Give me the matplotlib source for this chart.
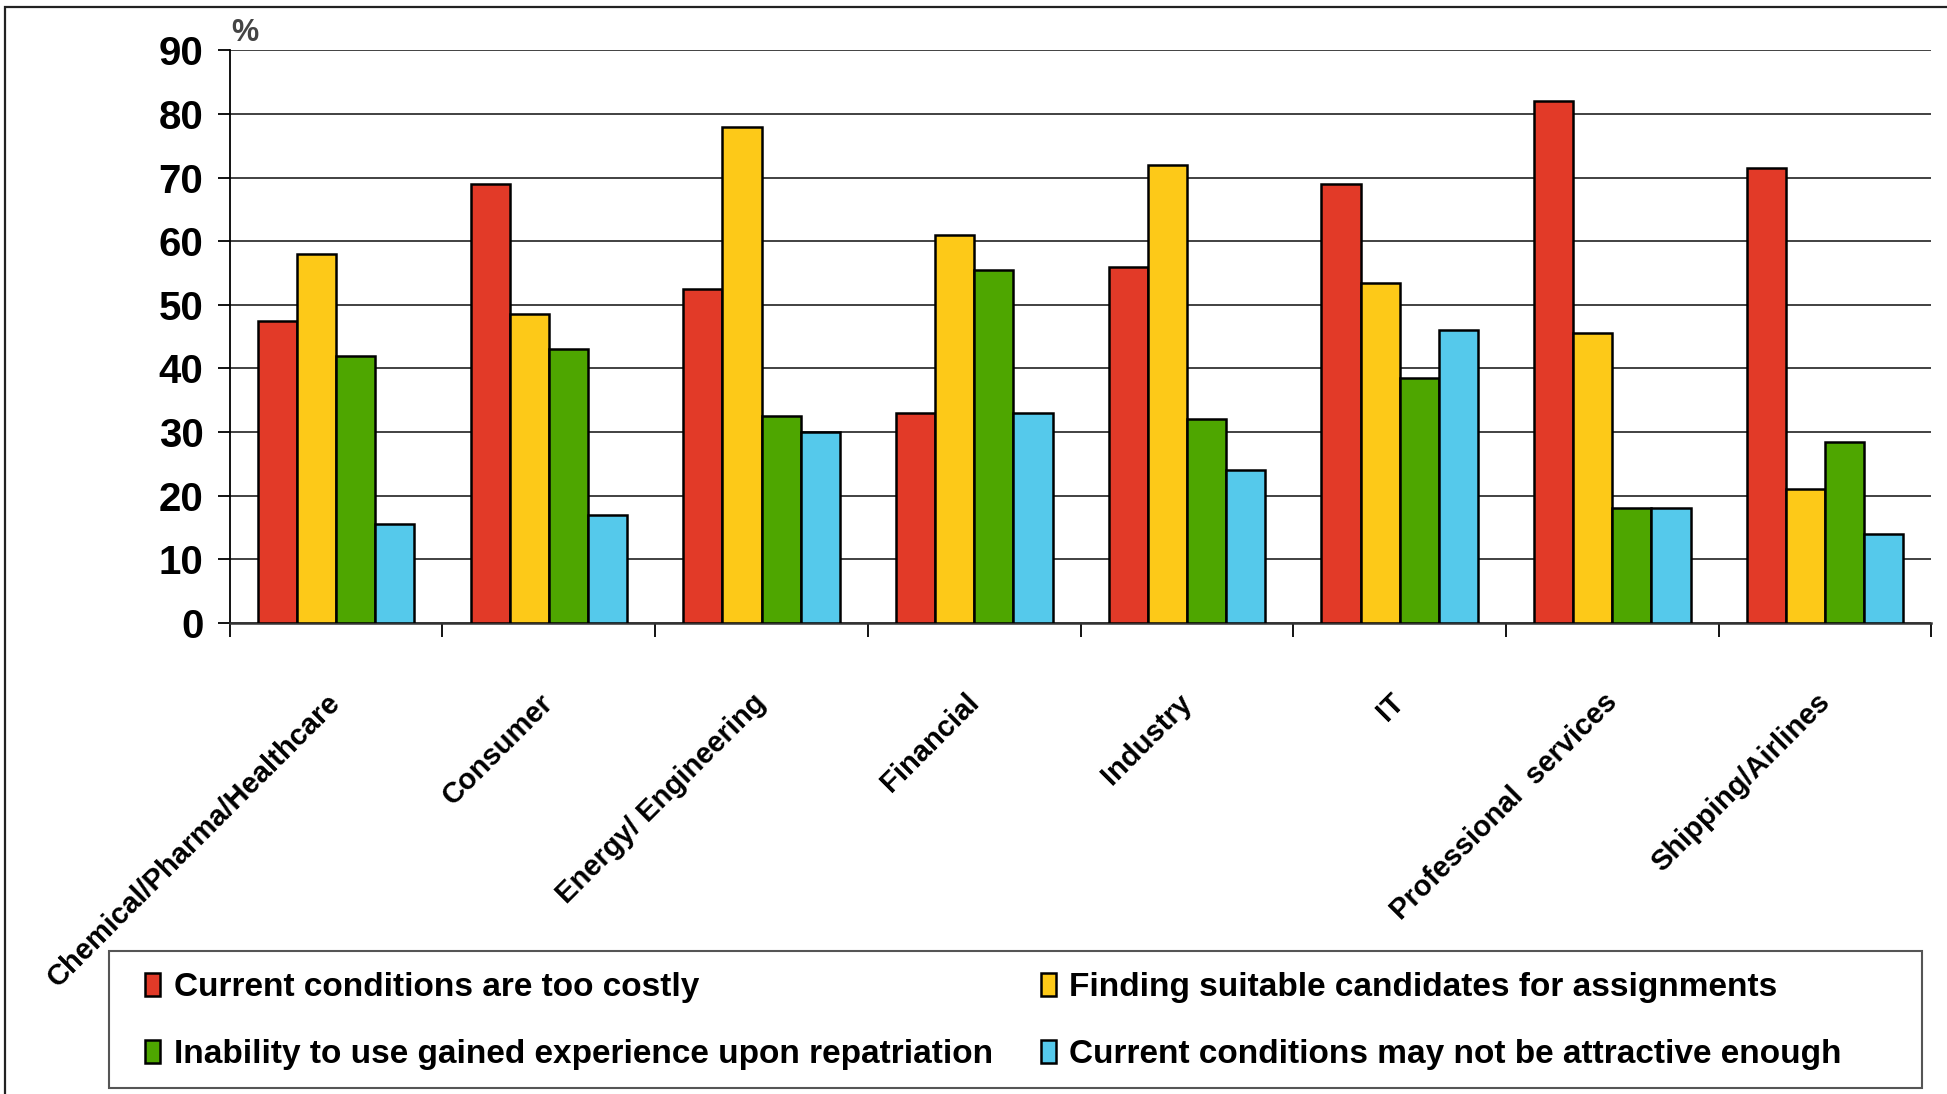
import numpy as np
import matplotlib.pyplot as plt
from matplotlib.patches import Rectangle

categories = ['Chemical/Pharma/Healthcare', 'Consumer', 'Energy/ Engineering', 'Financial',
              'Industry', 'IT', 'Professional  services', 'Shipping/Airlines']
series_names = ['Current conditions are too costly',
                'Finding suitable candidates for assignments',
                'Inability to use gained experience upon repatriation',
                'Current conditions may not be attractive enough']
too_costly = [47.5, 69, 52.5, 33, 56, 69, 82, 71.5]
candidates = [58, 48.5, 78, 61, 72, 53.5, 45.5, 21]
repatriation = [42, 43, 32.5, 55.5, 32, 38.5, 18, 28.5]
not_attractive = [15.5, 17, 30, 33, 24, 46, 18, 14]
colors = ['#E23A28', '#FDC918', '#4EA600', '#55C9EB']

font = 'Liberation Sans'

fig = plt.figure(figsize=(19.47, 10.94), dpi=100)
# outer frame, open at the right and bottom
fig.patches.append(Rectangle((0.0026, -0.05), 1.1, 1.044, transform=fig.transFigure,
                             fill=False, edgecolor='#222222', lw=1.6))
ax = fig.add_axes([0.118, 0.4305, 0.874, 0.5235])

x = np.arange(len(categories))
w = 0.184
bars = []
for i, vals in enumerate([too_costly, candidates, repatriation, not_attractive]):
    bars.append(ax.bar(x + (i - 1.5) * w, vals, w, color=colors[i], edgecolor='black',
                       lw=1.8, label=series_names[i], zorder=3))

ax.set_xlim(-0.5, len(categories) - 0.5)
ax.set_ylim(0, 90)
ax.set_yticks(range(0, 91, 10))
ax.yaxis.grid(True, color='#333333', lw=1.3, zorder=0)
ax.set_axisbelow(True)
for s in ['top', 'right']:
    ax.spines[s].set_visible(False)
ax.spines['left'].set_linewidth(1.3)
ax.spines['bottom'].set_linewidth(1.8)
ax.spines['bottom'].set_color('#333333')
ax.tick_params(axis='y', length=9, width=1.3, pad=10)
for lab in ax.get_yticklabels():
    lab.set_family(font)
    lab.set_fontweight('bold')
    lab.set_fontsize(29)

# category boundaries as ticks, names placed at group centres
ax.set_xticks(np.arange(len(categories) + 1) - 0.5)
ax.set_xticklabels([])
ax.tick_params(axis='x', length=10, width=1.3)
for xi, name in zip(x, categories):
    ax.annotate(name, xy=(xi, 0), xycoords=('data', 'axes fraction'),
                xytext=(-7, -47), textcoords='offset points', rotation=45,
                ha='right', va='top', rotation_mode='anchor',
                fontsize=21, fontweight='bold', family=font)

ax.text(0.001, 1.004, '%', transform=ax.transAxes, fontsize=22, fontweight='bold',
        color='#444444', family=font, va='bottom')

# legend box drawn separately so its width can be set freely
fig.patches.append(Rectangle((0.0561, 0.0057), 0.931, 0.1248, transform=fig.transFigure,
                             fill=False, edgecolor='#555555', lw=1.5))
order = [0, 2, 1, 3]
fig.legend([bars[i] for i in order], [series_names[i] for i in order],
           loc='upper left', bbox_to_anchor=(0.0669, 0.1248), borderaxespad=0,
           ncol=2, frameon=False,
           prop={'family': font, 'weight': 'bold', 'size': 24},
           handlelength=0.45, handleheight=0.7, handletextpad=0.4,
           columnspacing=1.44, labelspacing=1.08, borderpad=0.45)

fig.savefig('out.png', dpi=100)
